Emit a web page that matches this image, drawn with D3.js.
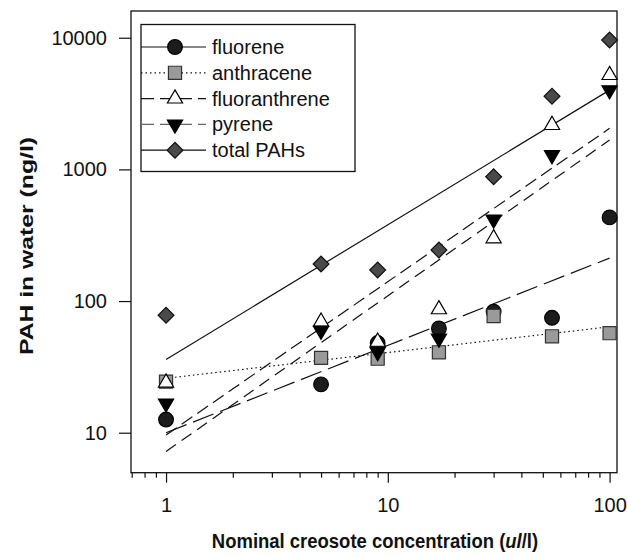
<!DOCTYPE html>
<html>
<head>
<meta charset="utf-8">
<script src="https://cdn.jsdelivr.net/npm/d3@7"></script>
<style>
  body { margin: 0; background: #fff; }
  svg text { font-family: 'Liberation Sans', Arial, Helvetica, sans-serif; fill: #111; }
</style>
</head>
<body>
<div id="chart"></div>
<script>
// concentrations (ul/l)
const conc = [1, 5, 9, 17, 30, 55, 100];

// measured PAH in water (ng/l)
const fluorene      = [12.6, 23.3, 48, 62, 83, 74.6, 432];
const anthracene    = [24.4, 37, 36.5, 40.8, 77, 54, 57];
const fluoranthrene = [24, 69.6, 49, 86.5, 299, 2170, 5200];
const pyrene        = [16.7, 59.6, 41, 52, 417, 1285, 4000];
const totalPAHs     = [78, 191, 172, 244, 880, 3600, 9600];

// fitted lines, value at conc 1 and conc 100
const fitX = [1, 100];
const fluoreneFit      = [10, 212];
const anthraceneFit    = [25.9, 63.8];
const fluoranthreneFit = [9.6, 2050];
const pyreneFit        = [7.2, 1670];
const totalFit         = [36, 4000];

const seriesNames = ['fluorene', 'anthracene', 'fluoranthrene', 'pyrene', 'total PAHs'];
const yTicks = [10, 100, 1000, 10000];
const xTicks = [0.7, 0.8, 0.9, 1, 2, 3, 4, 5, 6, 7, 8, 9, 10, 20, 30, 40, 50, 60, 70, 80, 90, 100];
const xLabels = [1, 10, 100];

const W = 628, H = 557;
const plotLeft = 131, plotRight = 617, plotTop = 11, plotBottom = 472.7;

const svg = d3.select('#chart').append('svg')
    .attr('width', W)
    .attr('height', H);

const x = d3.scaleLog().domain([0.695, 108]).range([plotLeft, plotRight]);
const y = d3.scaleLog().domain([4.97, 15960]).range([plotBottom, plotTop]);

// styles per series
const styles = {
    'fluorene':      { data: fluorene, fit: fluoreneFit, dash: '22,7', legendDash: null, legendColor: '#111', sym: d3.symbolCircle, size: 170, fill: '#1c1c1c', stroke: '#000', rot: 0 },
    'anthracene':    { data: anthracene, fit: anthraceneFit, dash: '1.5,3', legendDash: '1.5,3', legendColor: '#111', sym: d3.symbolSquare, size: 172, fill: '#9a9a9a', stroke: '#333', rot: 0 },
    'fluoranthrene': { data: fluoranthrene, fit: fluoranthreneFit, dash: '13,6', legendDash: '13,6', legendColor: '#111', sym: d3.symbolTriangle, size: 100, fill: '#fff', stroke: '#000', rot: 0 },
    'pyrene':        { data: pyrene, fit: pyreneFit, dash: '12,7', legendDash: '13,6', legendColor: '#666', sym: d3.symbolTriangle, size: 100, fill: '#000', stroke: '#000', rot: 180 },
    'total PAHs':    { data: totalPAHs, fit: totalFit, dash: null, legendDash: null, legendColor: '#111', sym: d3.symbolSquare, size: 125, fill: '#4a4a4a', stroke: '#111', rot: 45 }
};

// frame
svg.append('rect')
    .attr('x', plotLeft).attr('y', plotTop)
    .attr('width', plotRight - plotLeft).attr('height', plotBottom - plotTop)
    .attr('fill', 'none').attr('stroke', '#111').attr('stroke-width', 1.3);

// Y axis
const yAxis = svg.append('g')
    .attr('transform', `translate(${plotLeft},0)`)
    .call(d3.axisLeft(y).tickValues(yTicks).tickFormat(d3.format('d')).tickSize(12).tickPadding(12));
yAxis.select('.domain').remove();
yAxis.selectAll('line').attr('stroke', '#111').attr('stroke-width', 1.2);
yAxis.selectAll('text').style('font-size', '20px').attr('fill', '#111');

// X axis
const xAxis = svg.append('g')
    .attr('transform', `translate(0,${plotBottom})`)
    .call(d3.axisBottom(x).tickValues(xTicks)
        .tickFormat(d => xLabels.includes(d) ? String(d) : '')
        .tickSize(10).tickPadding(15));
xAxis.select('.domain').remove();
xAxis.selectAll('line')
    .attr('y2', d => xLabels.includes(d) ? 10 : 5)
    .attr('stroke', '#111').attr('stroke-width', 1.2);
xAxis.selectAll('text').style('font-size', '20px').attr('fill', '#111');

// axis titles (slightly condensed like the original)
const xTitle = svg.append('text')
    .attr('transform', 'translate(375,548) scale(0.88,1)')
    .attr('text-anchor', 'middle')
    .style('font-size', '21px')
    .style('font-weight', 'bold');
xTitle.append('tspan').text('Nominal creosote concentration (');
xTitle.append('tspan').style('font-style', 'italic').text('ul');
xTitle.append('tspan').text('/l)');

svg.append('text')
    .attr('transform', 'translate(33,246) rotate(-90)')
    .attr('text-anchor', 'middle')
    .attr('textLength', 218)
    .attr('lengthAdjust', 'spacingAndGlyphs')
    .style('font-size', '18px')
    .style('font-weight', 'bold')
    .text('PAH in water (ng/l)');

// fit lines
const line = d3.line().x(d => x(d[0])).y(d => y(d[1]));
seriesNames.forEach(name => {
    const s = styles[name];
    svg.append('path')
        .datum(fitX.map((c, i) => [c, s.fit[i]]))
        .attr('d', line)
        .attr('fill', 'none')
        .attr('stroke', '#111')
        .attr('stroke-width', 1.2)
        .attr('stroke-dasharray', s.dash);
});

// markers
function drawMarker(g, s, cx, cy) {
    g.append('path')
        .attr('d', d3.symbol().type(s.sym).size(s.size)())
        .attr('transform', `translate(${cx},${cy}) rotate(${s.rot})`)
        .attr('fill', s.fill)
        .attr('stroke', s.stroke)
        .attr('stroke-width', 1.2);
}

seriesNames.forEach(name => {
    const s = styles[name];
    const g = svg.append('g').attr('class', 'series');
    s.data.forEach((v, i) => drawMarker(g, s, x(conc[i]), y(v)));
});

// legend
const lg = svg.append('g').attr('class', 'legend');
lg.append('rect')
    .attr('x', 141).attr('y', 24.5)
    .attr('width', 214).attr('height', 147)
    .attr('fill', '#fff').attr('stroke', '#111').attr('stroke-width', 1.3);

seriesNames.forEach((name, i) => {
    const s = styles[name];
    const ry = 47 + i * 25.8;
    lg.append('line')
        .attr('x1', 141).attr('x2', 206)
        .attr('y1', ry).attr('y2', ry)
        .attr('stroke', s.legendColor)
        .attr('stroke-width', 1.2)
        .attr('stroke-dasharray', s.legendDash);
    drawMarker(lg, s, 175, ry);
    lg.append('text')
        .attr('x', 212)
        .attr('y', ry)
        .attr('dy', '0.35em')
        .style('font-size', '20px')
        .text(name);
});
</script>
</body>
</html>
